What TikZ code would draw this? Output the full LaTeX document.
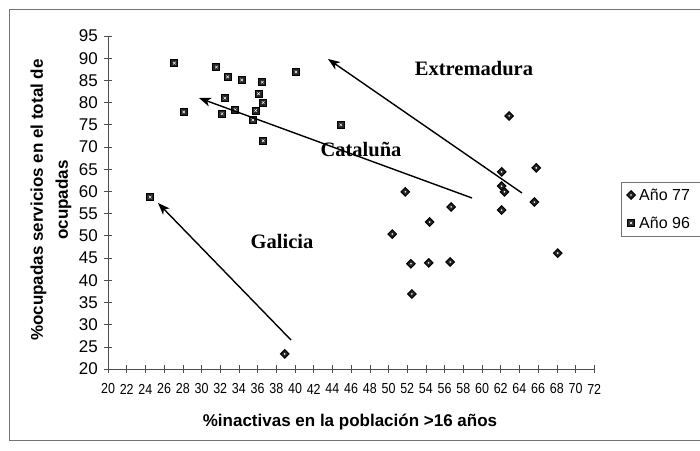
\documentclass[tikz,border=0pt]{standalone}
\usepackage{fontspec}
\setmainfont{Liberation Sans}
\newfontfamily\regionfont{Liberation Serif}
\newfontfamily\narrowfont[FakeStretch=0.86]{Liberation Sans}
\usetikzlibrary{shapes.geometric,arrows.meta}
\tikzset{
  sq/.style={rectangle,draw=black,line width=1pt,fill=black!85,minimum size=7pt,inner sep=0pt,
    path picture={\draw[white,line width=0.5pt]
      ([shift={(-1.3pt,-1.3pt)}]path picture bounding box.center) -- ([shift={(1.3pt,1.3pt)}]path picture bounding box.center)
      ([shift={(-1.3pt,1.3pt)}]path picture bounding box.center) -- ([shift={(1.3pt,-1.3pt)}]path picture bounding box.center);}},
  dm/.style={diamond,draw=black,line width=1pt,fill=black!85,minimum size=9pt,inner sep=0pt,
    path picture={\fill[white] (path picture bounding box.center) circle (0.9pt);}},
  ytl/.style={anchor=east,font=\fontsize{17}{20}\selectfont,inner sep=0pt},
  xtl/.style={anchor=center,font=\narrowfont\fontsize{14.5}{16}\selectfont,inner sep=0pt},
  region/.style={anchor=base,font=\regionfont\bfseries\fontsize{20.5}{24}\selectfont,inner sep=0pt},
  trend/.style={line width=1.4pt,-{Stealth[length=12pt,width=9pt,inset=3.5pt]}},
  axisline/.style={line width=0.6pt,black!70},
  frameline/.style={line width=0.6pt,black!55}
}
\begin{document}
\begin{tikzpicture}[x=1pt,y=1pt]
\useasboundingbox (0,0) rectangle (700,450);
% outer frame
\draw[frameline] (700,441) -- (9,441) -- (9,10) -- (700,10);
% legend
\draw[frameline] (621,214) rectangle (712,268);
\node[dm] (l77) at (631,255) {};
\node[anchor=west,font=\fontsize{16}{19}\selectfont,inner sep=0pt] (t77) at (639,255) {Año 77};
\node[sq] (l96) at (631,227) {};
\node[anchor=west,font=\fontsize{16}{19}\selectfont,inner sep=0pt] (t96) at (639,227) {Año 96};
% axis titles
\node[rotate=90,align=center,font=\bfseries\fontsize{17}{25}\selectfont] (ytitle) at (51,250) {\%ocupadas servicios en el total de\\ocupadas};
\node[font=\bfseries\fontsize{17}{20}\selectfont] (xtitle) at (350,28) {\%inactivas en la población >16 años};
\begin{scope}[x=9.35pt,y=4.44pt,shift={(-79pt,-7.8pt)}]
  % axes
  \draw[axisline] (20,20) -- (20,95);
  \draw[axisline] (20,20) -- (72,20);
  \foreach \v in {20,25,...,95} {
    \draw[axisline] ([xshift=-4pt]20,\v) -- ([xshift=4pt]20,\v);
    \node[ytl] (yl\v) at ([xshift=-10pt]20,\v) {\v};
  }
  \foreach \v in {20,22,...,72} {
    \draw[axisline] ([yshift=-4pt]\v,20) -- ([yshift=4pt]\v,20);
    \node[xtl] (xl\v) at ([yshift=-20pt]\v,20) {\v};
  }
  % Año 96
  \foreach \px/\py [count=\i] in {27.1/88.9,28.1/77.9,31.6/88.0,32.8/85.8,34.3/85.1,36.5/84.6,32.5/81.0,32.2/77.5,33.6/78.4,35.5/76.1,35.8/78.2,36.1/82.0,36.6/80.0,36.6/71.4,40.1/86.9,44.9/75.0,24.5/58.7}
    \node[sq] (s\i) at (\px,\py) {};
  % Año 77
  \foreach \px/\py [count=\i] in {62.9/77.0,65.8/65.3,62.1/64.4,62.1/61.2,62.4/59.9,65.6/57.6,62.1/55.8,51.8/59.9,56.7/56.5,54.4/53.1,50.4/50.4,52.4/43.7,54.3/43.9,56.6/44.1,52.5/36.9,68.1/46.1,38.9/23.4}
    \node[dm] (d\i) at (\px,\py) {};
\end{scope}
% trend arrows
\coordinate (gS) at (291,110);
\coordinate (gE) at (158,247);
\coordinate (cS) at (472,252);
\coordinate (cE) at (199,352);
\coordinate (eS) at (522,257);
\coordinate (eE) at (328,391);
\draw[trend] (gS) -- (gE);
\draw[trend] (cS) -- (cE);
\draw[trend] (eS) -- (eE);
% region labels
\node[region] (ext) at (474,374) {Extremadura};
\node[region] (cat) at (361,293) {Cataluña};
\node[region] (gal) at (282,201) {Galicia};
\end{tikzpicture}
\end{document}
